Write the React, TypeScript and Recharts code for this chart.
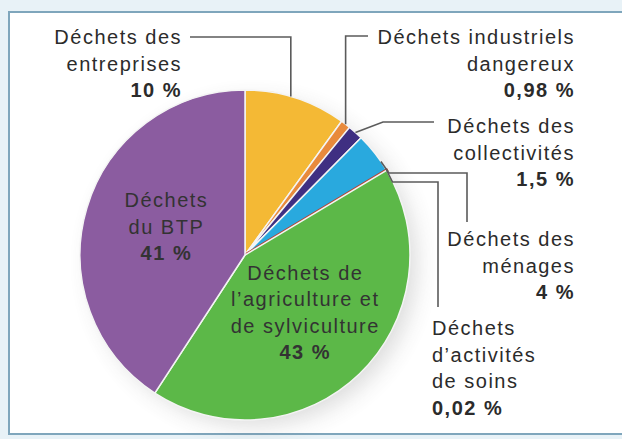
import { PieChart, Pie, Cell } from "recharts"

// Répartition des déchets par origine (en %)
const categories = [
  "Déchets des entreprises",
  "Déchets industriels dangereux",
  "Déchets des collectivités",
  "Déchets des ménages",
  "Déchets d’activités de soins",
  "Déchets de l’agriculture et de sylviculture",
  "Déchets du BTP",
]
const shares = [10, 0.98, 1.5, 4, 0.02, 43, 41]
const shareLabels = ["10 %", "0,98 %", "1,5 %", "4 %", "0,02 %", "43 %", "41 %"]
const labelLines = [
  ["Déchets des", "entreprises"],
  ["Déchets industriels", "dangereux"],
  ["Déchets des", "collectivités"],
  ["Déchets des", "ménages"],
  ["Déchets", "d’activités", "de soins"],
  ["Déchets de", "l’agriculture et", "de sylviculture"],
  ["Déchets", "du BTP"],
]
const colors = ["#F4B935", "#E88A3C", "#3F2F82", "#29A9DE", "#B8432F", "#5CB848", "#8B5CA0"]

const data = categories.map((name, i) => ({ name, value: shares[i] }))

const RAD = Math.PI / 180
const LH = 26.5
const FONT = "'Liberation Sans', Arial, sans-serif"

type Pt = [number, number]
type Callout = {
  t: number
  route: (x: number, y: number) => Pt[]
  x: number
  y: number
  anchor: "start" | "end"
}

const callouts: (Callout | null)[] = [
  { t: 0.45, route: (x, y) => [[x, y], [x, 37], [190, 37]], x: 182, y: 44, anchor: "end" },
  { t: 0.5, route: (x, y) => [[x, y], [x, 36], [368, 36]], x: 575, y: 44, anchor: "end" },
  { t: 0.5, route: (x, y) => [[x, y], [383, 122], [434, 122]], x: 575, y: 133, anchor: "end" },
  { t: 0.75, route: (x, y) => [[x, y], [x + 8, 173], [467, 173], [467, 222]], x: 575, y: 246, anchor: "end" },
  { t: 0.5, route: (x, y) => [[x, y], [x + 6, 182], [438, 182], [438, 307]], x: 432, y: 335, anchor: "start" },
  null,
  null,
]
const insideRadius = [0, 0, 0, 0, 0, 87, 82]

function renderLabel(props: any) {
  const { cx, cy, outerRadius, startAngle, endAngle, midAngle, index } = props
  const lines = labelLines[index]
  const c = callouts[index]
  if (c) {
    const ang = startAngle + (endAngle - startAngle) * c.t
    const ax = cx + outerRadius * Math.cos(-ang * RAD)
    const ay = cy + outerRadius * Math.sin(-ang * RAD)
    const pts = c.route(ax, ay).map((p) => p.join(",")).join(" ")
    return (
      <g key={`lbl-${index}`}>
        <polyline points={pts} fill="none" stroke="#5b5b5b" strokeWidth={1.6} />
        <text
          textAnchor={c.anchor}
          fontFamily={FONT}
          fontSize={20}
          letterSpacing={1.5}
          fill="#2b2b2b"
        >
          {lines.map((l, i) => (
            <tspan key={i} x={c.x} y={c.y + i * LH}>
              {l}
            </tspan>
          ))}
          <tspan x={c.x} y={c.y + lines.length * LH} fontWeight="bold">
            {shareLabels[index]}
          </tspan>
        </text>
      </g>
    )
  }
  const r = insideRadius[index]
  const px = cx + r * Math.cos(-midAngle * RAD)
  const py = cy + r * Math.sin(-midAngle * RAD)
  const n = lines.length + 1
  const y0 = py - ((n - 1) * LH) / 2 + 2
  return (
    <text
      key={`lbl-${index}`}
      textAnchor="middle"
      fontFamily={FONT}
      fontSize={20}
      letterSpacing={1.5}
      fill="#333333"
    >
      {lines.map((l, i) => (
        <tspan key={i} x={px} y={y0 + i * LH}>
          {l}
        </tspan>
      ))}
      <tspan x={px} y={y0 + lines.length * LH} fontWeight="bold">
        {shareLabels[index]}
      </tspan>
    </text>
  )
}

export default function App() {
  return (
    <div
      style={{
        position: "absolute",
        left: 0,
        top: 0,
        width: 622,
        height: 439,
        overflow: "hidden",
        background: "#E8F2F7",
      }}
    >
      <style>{`.pie-shadow { filter: blur(8px); opacity: 0.45; }`}</style>
      <div
        style={{
          position: "absolute",
          left: 8,
          top: 11,
          width: 640,
          height: 420,
          border: "2px solid #7FA6BC",
          background: "#FFFFFF",
        }}
      />
      <div style={{ position: "absolute", left: 0, top: 0 }}>
        <PieChart width={622} height={439} margin={{ top: 0, right: 0, bottom: 0, left: 0 }}>
          <Pie
            className="pie-shadow"
            data={data}
            dataKey="value"
            cx={254}
            cy={263}
            outerRadius={163}
            startAngle={90}
            endAngle={-270}
            stroke="none"
            fill="#555555"
            isAnimationActive={false}
          />
          <Pie
            data={data}
            dataKey="value"
            cx={245}
            cy={255}
            outerRadius={165}
            startAngle={90}
            endAngle={-270}
            stroke="#F4F4F4"
            strokeWidth={1.5}
            label={renderLabel}
            labelLine={false}
            isAnimationActive={false}
          >
            {data.map((d, i) => (
              <Cell
                key={d.name}
                fill={colors[i]}
                stroke={i === 4 ? colors[i] : "#F4F4F4"}
                strokeWidth={i === 4 ? 3 : 1.5}
              />
            ))}
          </Pie>
        </PieChart>
      </div>
    </div>
  )
}
